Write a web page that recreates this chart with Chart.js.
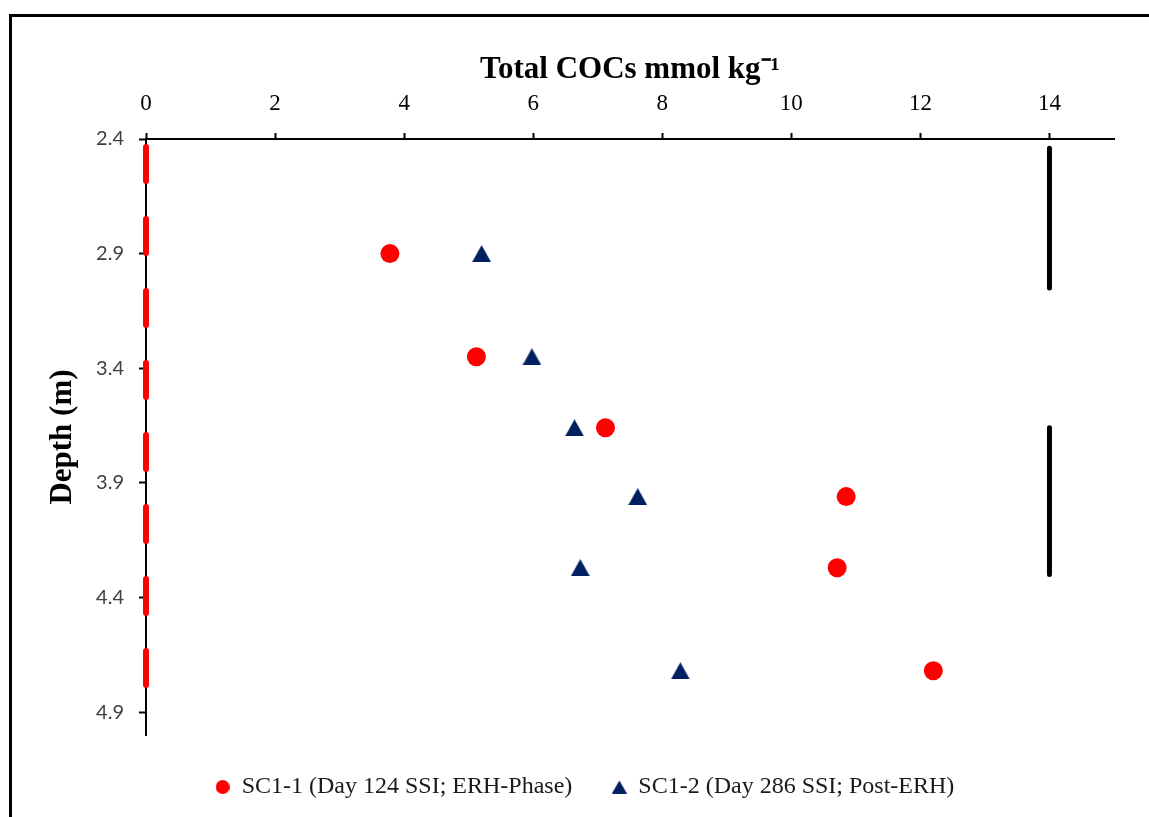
<!DOCTYPE html>
<html>
<head>
<meta charset="utf-8">
<script src="https://cdn.jsdelivr.net/npm/chart.js@4.4.0/dist/chart.umd.min.js"></script>
<style>
  body { margin: 0; background: #fff; }
  #wrap { position: relative; width: 1149px; height: 817px; }
  #frame { position: absolute; left: 9px; top: 14px; right: 0; bottom: 0;
           border-top: 3px solid #000; border-left: 3px solid #000; pointer-events: none; }
  canvas { position: absolute; left: 0; top: 0; }
</style>
</head>
<body>
<div id="wrap">
  <canvas id="chart" width="1149" height="817"></canvas>
  <div id="frame"></div>
</div>
<script>
// depths in m, totals in mmol/kg
var depthSC11 = [2.9, 3.35, 3.66, 3.96, 4.27, 4.72];
var cocSC11 = [3.78, 5.12, 7.12, 10.85, 10.71, 12.2];
var depthSC12 = [2.9, 3.35, 3.66, 3.96, 4.27, 4.72];
var cocSC12 = [5.2, 5.98, 6.64, 7.62, 6.73, 8.28];

// red dashed line on the zero axis
var zeroDepth = [2.4, 4.9];
var zeroCoc = [0, 0];

// black bars at the right
var barCoc = [14, 14];
var barDepthA = [2.44, 3.05];
var barDepthB = [3.66, 4.30];

var xTicks = [0, 2, 4, 6, 8, 10, 12, 14];
var yTicks = [2.4, 2.9, 3.4, 3.9, 4.4, 4.9];

var RED = '#ff0000';
var NAVY = '#002060';

function pts(xs, ys) {
    return xs.map(function (x, i) { return { x: x, y: ys[i] }; });
}

function mark(shape, w, h, color) {
    var c = document.createElement('canvas');
    c.width = w; c.height = h;
    var g = c.getContext('2d');
    g.fillStyle = color;
    g.beginPath();
    if (shape === 'tri') {
        g.moveTo(w / 2, 0);
        g.lineTo(w, h);
        g.lineTo(0, h);
    } else {
        g.arc(w / 2, h / 2, w / 2, 0, Math.PI * 2);
    }
    g.closePath();
    g.fill();
    return c;
}

var triMark = mark('tri', 19, 17, NAVY);
var legendMarks = [mark('circle', 14, 14, RED), mark('tri', 15, 13, NAVY)];

var shiftLegend = {
    id: 'shiftLegend',
    afterLayout: function (chart) {
        chart.legend.left += 22;
        chart.legend.right += 22;
    }
};

var padLeft = 12, padTop = 0;

new Chart(document.getElementById('chart'), {
    type: 'scatter',
    data: {
        datasets: [{
            label: 'SC1-1 (Day 124 SSI; ERH-Phase)',
            data: pts(cocSC11, depthSC11),
            pointStyle: 'circle',
            pointRadius: 9.5,
            backgroundColor: RED,
            borderWidth: 0
        }, {
            label: 'SC1-2 (Day 286 SSI; Post-ERH)',
            data: pts(cocSC12, depthSC12),
            pointStyle: triMark,
            pointRadius: 10,
            backgroundColor: NAVY,
            borderWidth: 0
        }, {
            label: 'zero',
            data: pts(zeroCoc, zeroDepth),
            showLine: true,
            borderColor: RED,
            borderWidth: 6,
            borderDash: [34, 38],
            borderDashOffset: -8,
            borderCapStyle: 'round',
            pointRadius: 0,
            clip: false
        }, {
            label: 'barA',
            data: pts(barCoc, barDepthA),
            showLine: true,
            borderColor: '#000',
            borderWidth: 5,
            borderCapStyle: 'round',
            pointRadius: 0
        }, {
            label: 'barB',
            data: pts(barCoc, barDepthB),
            showLine: true,
            borderColor: '#000',
            borderWidth: 5,
            borderCapStyle: 'round',
            pointRadius: 0
        }]
    },
    options: {
        responsive: false,
        animation: false,
        layout: { padding: { left: padLeft, right: 35, top: padTop, bottom: 8 } },
        scales: {
            x: {
                type: 'linear',
                position: 'top',
                min: 0,
                max: 15,
                afterBuildTicks: function (s) { s.ticks = xTicks.map(function (v) { return { value: v }; }); },
                afterFit: function (s) { s.height = 139 - padTop; },
                ticks: {
                    padding: 15,
                    color: '#000',
                    font: { family: 'Liberation Serif', size: 23 }
                },
                grid: { drawOnChartArea: false, tickLength: 6, tickWidth: 2, tickColor: '#000' },
                border: { color: '#000', width: 2 },
                title: {
                    display: true,
                    text: 'Total COCs mmol kg\u207B\u00B9',
                    color: '#000',
                    font: { family: 'Liberation Serif', size: 31, weight: 'bold' },
                    padding: { top: 51, bottom: 0 }
                }
            },
            y: {
                type: 'linear',
                reverse: true,
                min: 2.4,
                max: 5.0,
                afterBuildTicks: function (s) { s.ticks = yTicks.map(function (v) { return { value: v }; }); },
                afterFit: function (s) { s.width = 146 - padLeft; },
                ticks: {
                    padding: 15,
                    color: '#404040',
                    font: { family: 'Lato', size: 20 },
                    callback: function (v) { return Number(v).toFixed(1); }
                },
                grid: { drawOnChartArea: false, tickLength: 7, tickWidth: 2, tickColor: '#000' },
                border: { color: '#000', width: 2 },
                title: {
                    display: true,
                    text: 'Depth (m)',
                    color: '#000',
                    font: { family: 'Liberation Serif', size: 31, weight: 'bold' },
                    padding: { top: 32, bottom: 0 }
                }
            }
        },
        plugins: {
            tooltip: { enabled: false },
            legend: {
                position: 'bottom',
                labels: {
                    usePointStyle: true,
                    boxWidth: 14,
                    padding: 40,
                    color: '#1a1a1a',
                    font: { family: 'Liberation Serif', size: 24 },
                    generateLabels: function (chart) {
                        var items = Chart.defaults.plugins.legend.labels.generateLabels(chart);
                        return items.filter(function (it) { return it.datasetIndex < 2; })
                            .map(function (it) { it.pointStyle = legendMarks[it.datasetIndex]; return it; });
                    }
                }
            }
        }
    },
    plugins: [shiftLegend]
});
</script>
</body>
</html>
